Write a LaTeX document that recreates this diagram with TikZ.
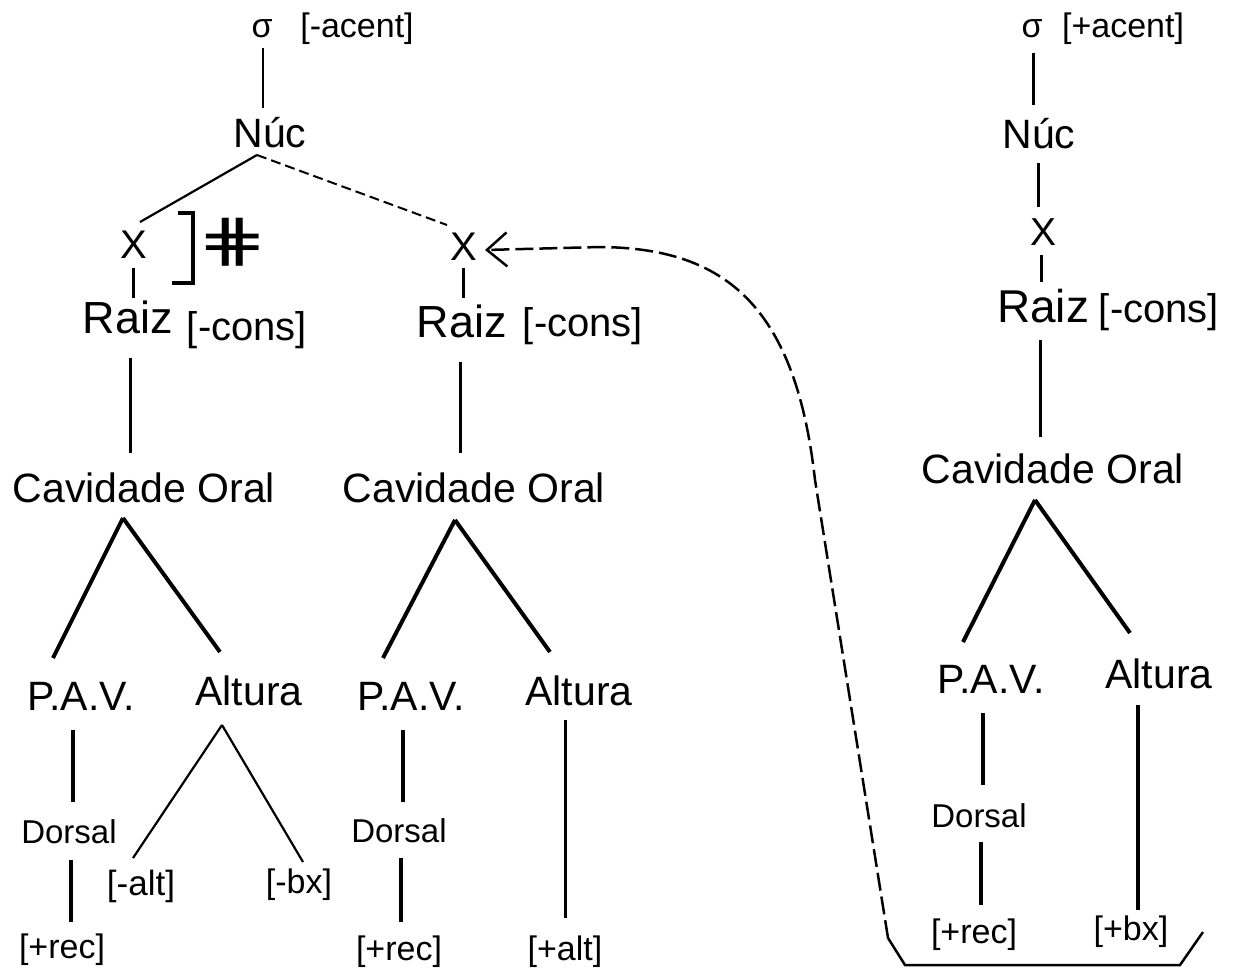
\documentclass[tikz,border=0pt]{standalone}
\usepackage{fontspec}
\usepackage{graphicx}
\setmainfont{Liberation Sans}
\newfontfamily\djv{DejaVu Sans}
\usetikzlibrary{arrows.meta,calc}
\tikzset{
  lbl/.style={inner sep=0pt, anchor=base, font=\fontsize{#1pt}{#1pt}\selectfont},
  thk/.style={line width=4pt},
  med/.style={line width=3pt},
  thn/.style={line width=2.2pt},
  dashlink/.style={line width=2pt, dash pattern=on 10pt off 5pt},
  curvelink/.style={line width=2.5pt, dash pattern=on 18pt off 6pt,
    -{Straight Barb[length=20pt,width=34pt,line width=2.5pt]}},
}
\begin{document}
\begin{tikzpicture}[x=1pt,y=-1pt]
\useasboundingbox[fill=white] (0,0) rectangle (1234,967);

% ---------- left tree ----------
\node[lbl=34] (s1) at (262,37) {σ};
\node[lbl=34] (ac1) at (357,37) {[-acent]};
\node[lbl=41] (n1) at (270,147) {Núc};
\node[lbl=40] (x1) at (134,258) {X};
\node[lbl=58] (hash) at (233,260) {\djv\scalebox{1.45}[1]{⋕}};
\node[lbl=45] (r1) at (128,333) {Raiz};
\node[lbl=40] (c1n) at (247,340) {[-cons]};
\node[lbl=41] (cav1) at (144,502) {Cavidade Oral};
\node[lbl=41] (p1) at (81,710) {P.A.V.};
\node[lbl=41] (a1) at (249,705) {Altura};
\node[lbl=33] (d1) at (69,843) {Dorsal};
\node[lbl=34] (rec1) at (62,958) {[+rec]};
\node[lbl=35] (alt1) at (141,895) {[-alt]};
\node[lbl=34] (bx1) at (299,893) {[-bx]};

% ---------- middle tree ----------
\node[lbl=40] (x2) at (464,260) {X};
\node[lbl=45] (r2) at (462,337) {Raiz};
\node[lbl=40] (c2n) at (583,336) {[-cons]};
\node[lbl=41] (cav2) at (474,502) {Cavidade Oral};
\node[lbl=41] (p2) at (411,710) {P.A.V.};
\node[lbl=41] (a2) at (579,705) {Altura};
\node[lbl=33] (d2) at (399,842) {Dorsal};
\node[lbl=34] (rec2) at (399,960) {[+rec]};
\node[lbl=34] (alt2) at (565,960) {[+alt]};

% ---------- right tree ----------
\node[lbl=34] (s3) at (1032,37) {σ};
\node[lbl=34] (ac3) at (1123,37) {[+acent]};
\node[lbl=41] (n3) at (1039,148) {Núc};
\node[lbl=39] (x3) at (1043,245) {X};
\node[lbl=46] (r3) at (1043,322) {Raiz};
\node[lbl=40] (c3n) at (1159,322) {[-cons]};
\node[lbl=41] (cav3) at (1053,483) {Cavidade Oral};
\node[lbl=41] (p3) at (991,693) {P.A.V.};
\node[lbl=41] (a3) at (1159,688) {Altura};
\node[lbl=33] (d3) at (979,827) {Dorsal};
\node[lbl=34] (rec3) at (974,943) {[+rec]};
\node[lbl=34] (bx3) at (1131,940) {[+bx]};

% ---------- left connectors ----------
\draw[thn] ($(s1.base)+(1,11)$) -- ($(n1.base)+(-7,-39)$);
\draw[thn] ($(n1.base)+(-13,8)$) -- ($(x1.base)+(6,-36)$);
\draw[dashlink] ($(n1.base)+(-13,8)$) -- ($(x2.base)+(-17,-35)$);
\draw[med] ($(x1.base)+(-1,10)$) -- ($(r1.base)+(5,-35)$);
\draw[med] ($(r1.base)+(2,25)$) -- ($(cav1.base)+(-14,-49)$);
\draw[thk] ($(cav1.base)+(-21,16)$) -- ($(p1.base)+(-28,-52)$);
\draw[thk] ($(cav1.base)+(-21,16)$) -- ($(a1.base)+(-29,-53)$);
\draw[thk] ($(p1.base)+(-8,20)$) -- ($(d1.base)+(4,-41)$);
\draw[thk] ($(d1.base)+(2,17)$) -- ($(rec1.base)+(9,-36)$);
\draw[thn] ($(a1.base)+(-27,20)$) -- ($(alt1.base)+(-8,-37)$);
\draw[thn] ($(a1.base)+(-27,20)$) -- ($(bx1.base)+(4,-31)$);
% bracket after left X
\draw[line width=3.5pt] (178,213) -- (193,213) -- (193,283) -- (172,283);

% ---------- middle connectors ----------
\draw[med] ($(x2.base)+(-1,8)$) -- ($(r2.base)+(1,-39)$);
\draw[med] ($(r2.base)+(-2,25)$) -- ($(cav2.base)+(-14,-49)$);
\draw[thk] ($(cav2.base)+(-19,18)$) -- ($(p2.base)+(-28,-52)$);
\draw[thk] ($(cav2.base)+(-19,18)$) -- ($(a2.base)+(-29,-53)$);
\draw[thk] ($(p2.base)+(-8,20)$) -- ($(d2.base)+(4,-40)$);
\draw[thk] ($(d2.base)+(2,16)$) -- ($(rec2.base)+(2,-38)$);
\draw[med] ($(a2.base)+(-14,15)$) -- ($(alt2.base)+(0,-42)$);

% ---------- right connectors ----------
\draw[med] ($(s3.base)+(1,16)$) -- ($(n3.base)+(-6,-43)$);
\draw[med] ($(n3.base)+(-1,15)$) -- ($(x3.base)+(-5,-38)$);
\draw[med] ($(x3.base)+(-2,10)$) -- ($(r3.base)+(-2,-40)$);
\draw[med] ($(r3.base)+(-3,18)$) -- ($(cav3.base)+(-13,-46)$);
\draw[thk] ($(cav3.base)+(-18,17)$) -- ($(p3.base)+(-28,-51)$);
\draw[thk] ($(cav3.base)+(-18,17)$) -- ($(a3.base)+(-29,-55)$);
\draw[thk] ($(p3.base)+(-8,20)$) -- ($(d3.base)+(4,-42)$);
\draw[thk] ($(d3.base)+(2,15)$) -- ($(rec3.base)+(7,-38)$);
\draw[thk] ($(a3.base)+(-21,17)$) -- ($(bx3.base)+(7,-30)$);

% ---------- bottom bracket and dashed arrow ----------
\coordinate (bl) at (888,938);
\draw[line width=2.5pt] (bl) -- (905,965) -- (1180,965) -- (1203,932);
\draw[curvelink] (bl) -- (815,480) .. controls (795,300) and (720,248) .. (600,247)
  -- ($(x2.base)+(21,-10)$);
\end{tikzpicture}
\end{document}
